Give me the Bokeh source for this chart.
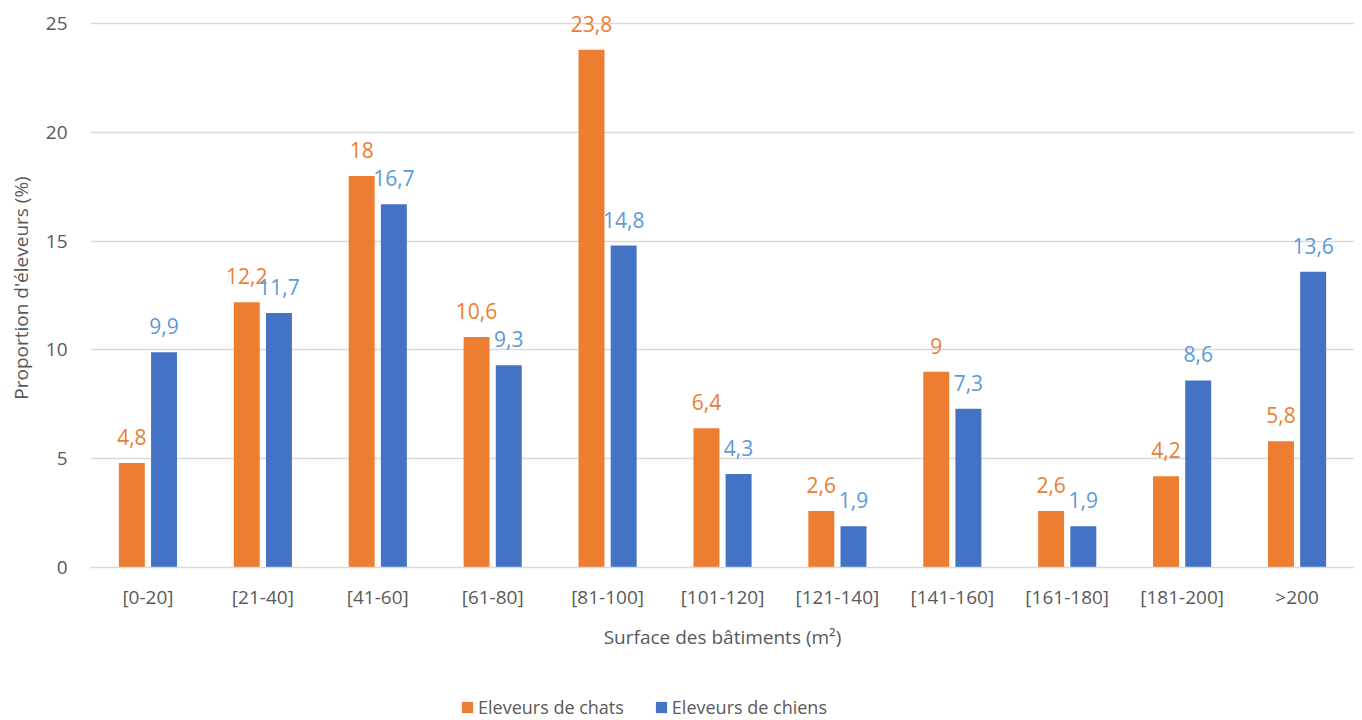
from bokeh.plotting import figure
from bokeh.models import ColumnDataSource, FactorRange, Range1d, FixedTicker, LabelSet, Legend, LegendItem
from bokeh.layouts import column
from bokeh.transform import dodge
from bokeh.core.properties import value
from bokeh.embed import file_html
from bokeh.resources import INLINE

categories = ["[0-20]", "[21-40]", "[41-60]", "[61-80]", "[81-100]", "[101-120]",
              "[121-140]", "[141-160]", "[161-180]", "[181-200]", ">200"]
chats = [4.8, 12.2, 18, 10.6, 23.8, 6.4, 2.6, 9, 2.6, 4.2, 5.8]
chiens = [9.9, 11.7, 16.7, 9.3, 14.8, 4.3, 1.9, 7.3, 1.9, 8.6, 13.6]
y_ticks = [0, 5, 10, 15, 20, 25]
series_names = ["Eleveurs de chats", "Eleveurs de chiens"]

def fmt(v):
    s = ("%g" % v)
    return s.replace(".", ",")

src = ColumnDataSource(dict(
    cat=categories, chats=chats, chiens=chiens,
    lab_chats=[fmt(v) for v in chats], lab_chiens=[fmt(v) for v in chiens],
))

FONT = "Open Sans"
GREY = "#595959"
ORANGE = "#ED7D31"
BLUE = "#4472C4"
LBLUE = "#5B9BD5"

p = figure(x_range=FactorRange(*categories, range_padding=0), y_range=Range1d(0, 25.7),
           width=1354, height=680, output_backend="svg", toolbar_location=None,
           min_border_left=90, min_border_top=8, min_border_right=0, min_border_bottom=113)
p.outline_line_color = None

r1 = p.vbar(x=dodge("cat", -0.14, range=p.x_range), top="chats", width=0.226, source=src,
            fill_color=ORANGE, line_color=None)
r2 = p.vbar(x=dodge("cat", 0.14, range=p.x_range), top="chiens", width=0.226, source=src,
            fill_color=BLUE, line_color=None)

l1 = LabelSet(x=dodge("cat", -0.14, range=p.x_range), y="chats", text="lab_chats", source=src,
              text_align="center", text_baseline="alphabetic", y_offset=18,
              text_font=value(FONT), text_font_size=value("21px"), text_color=value(ORANGE))
l2 = LabelSet(x=dodge("cat", 0.14, range=p.x_range), y="chiens", text="lab_chiens", source=src,
              text_align="center", text_baseline="alphabetic", y_offset=18,
              text_font=value(FONT), text_font_size=value("21px"), text_color=value(LBLUE))
p.add_layout(l1)
p.add_layout(l2)

p.xgrid.grid_line_color = None
p.ygrid.grid_line_color = "#D9D9D9"
p.ygrid.grid_line_width = 1.3
p.yaxis.ticker = FixedTicker(ticks=y_ticks)

for ax in (p.xaxis, p.yaxis):
    ax.major_tick_line_color = None
    ax.minor_tick_line_color = None
    ax.major_tick_out = 0
    ax.major_tick_in = 0
    ax.minor_tick_out = 0
    ax.minor_tick_in = 0
    ax.major_label_text_font = FONT
    ax.major_label_text_font_size = "19px"
    ax.major_label_text_color = GREY
    ax.axis_label_text_font = FONT
    ax.axis_label_text_font_size = "19px"
    ax.axis_label_text_color = GREY
    ax.axis_label_text_font_style = "normal"

p.yaxis.axis_line_color = None
p.xaxis.axis_line_color = "#D9D9D9"
p.xaxis.axis_line_width = 1.3
p.yaxis.major_label_standoff = 23
p.xaxis.major_label_standoff = 16
p.xaxis.axis_label = "Surface des bâtiments (m²)"
p.yaxis.axis_label = "Proportion d'éleveurs (%)"
p.xaxis.axis_label_standoff = 11
p.yaxis.axis_label_standoff = 9

# legend strip below the chart (swatch renderers sit outside the visible range)
pl = figure(width=1354, height=40, x_range=Range1d(0, 1), y_range=Range1d(0, 1),
            output_backend="svg", toolbar_location=None,
            x_axis_location=None, y_axis_location=None,
            min_border_left=0, min_border_right=0, min_border_top=0, min_border_bottom=0)
pl.outline_line_color = None
pl.grid.visible = False
d1 = pl.vbar(x=[5], top=[1], width=0.1, fill_color=ORANGE, line_color=None)
d2 = pl.vbar(x=[5], top=[1], width=0.1, fill_color=BLUE, line_color=None)

legend = Legend(items=[LegendItem(label=series_names[0], renderers=[d1]),
                       LegendItem(label=series_names[1], renderers=[d2])],
                orientation="horizontal", location=(370, 1),
                glyph_width=14, glyph_height=14, label_standoff=4, spacing=30,
                label_text_font=FONT, label_text_font_size="18px", label_text_color=GREY,
                border_line_color=None, background_fill_alpha=0, padding=0, margin=0)
pl.add_layout(legend, "center")

open("out.html", "w").write(file_html(column(p, pl, spacing=0), INLINE))
